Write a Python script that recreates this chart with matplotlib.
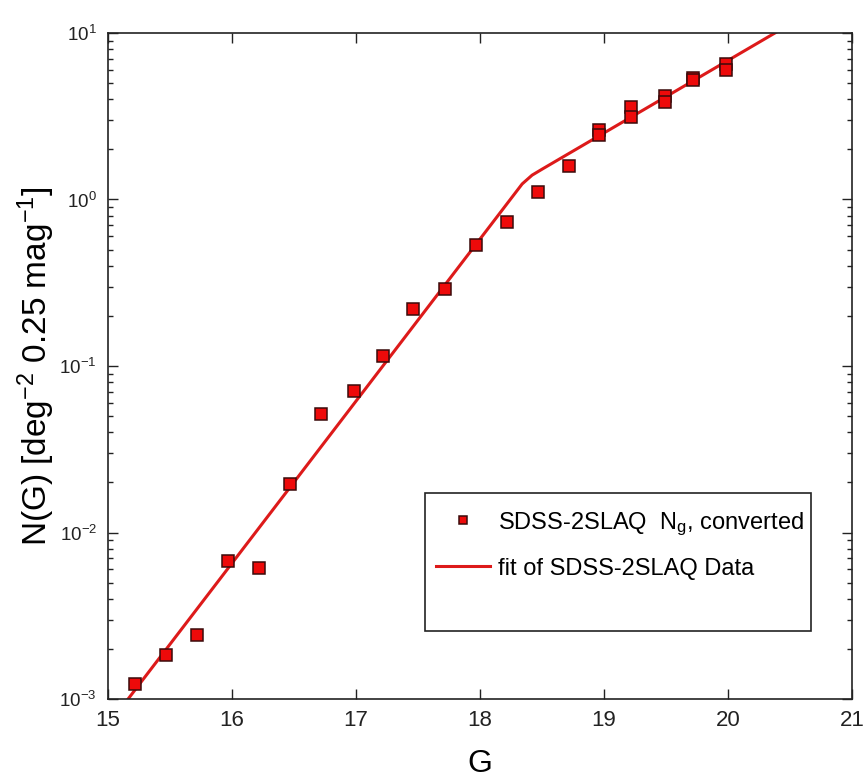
# ================== IMPORTS ==================
import math
import matplotlib
matplotlib.use("Agg")

import matplotlib.pyplot as plt
from matplotlib.patches import Rectangle
from matplotlib.ticker import LogLocator, FixedLocator, FuncFormatter, NullLocator

plt.rcParams["font.family"] = ["Liberation Sans", "DejaVu Sans"]
plt.rcParams["mathtext.fontset"] = "custom"
plt.rcParams["mathtext.rm"] = "Liberation Sans"
plt.rcParams["mathtext.it"] = "Liberation Sans"

# ================== DATA ==================
# SDSS-2SLAQ N_g counts (converted)
g_mag = [15.22, 15.47, 15.72, 15.97, 16.22, 16.47, 16.72, 16.98, 17.22, 17.46,
         17.72, 17.97, 18.22, 18.47, 18.72, 18.96, 18.96, 19.22, 19.22,
         19.49, 19.49, 19.72, 19.72, 19.98, 19.98]
n_g = [1.23e-3, 1.83e-3, 2.42e-3, 6.78e-3, 6.12e-3, 0.0195, 0.0516, 0.0711, 0.115, 0.219,
       0.291, 0.531, 0.736, 1.11, 1.60, 2.61, 2.44, 3.61, 3.12,
       4.19, 3.87, 5.40, 5.20, 6.47, 6.00]

# fit of SDSS-2SLAQ data (broken power law)
fit_g = [15.10, 18.34, 18.42, 18.50, 20.50]
fit_n = [8.7e-4, 1.24, 1.40, 1.52, 11.3]

x_ticks = [15, 16, 17, 18, 19, 20, 21]

RED = "#ee0a0a"
LINE_RED = "#dd1a1a"

# ================== CHART ==================
fig = plt.figure(figsize=(8.63, 7.78), dpi=100)
ax = fig.add_axes([0.1251, 0.1015, 0.8622, 0.8561])

ax.plot(fit_g, fit_n, color=LINE_RED, lw=2.2, zorder=2, label="fit of SDSS-2SLAQ Data")
ax.plot(g_mag, n_g, ls="none", marker="s", ms=8.4, mfc=RED, mec="#3a0a0a", mew=1.1,
        zorder=3, label=r"SDSS-2SLAQ  $\mathregular{N_g}$, converted")

ax.set_yscale("log")
ax.set_xlim(15, 21)
ax.set_ylim(1e-3, 10)

ax.xaxis.set_major_locator(FixedLocator(x_ticks))
ax.xaxis.set_minor_locator(NullLocator())
ax.yaxis.set_major_locator(LogLocator(base=10, numticks=10))
ax.yaxis.set_minor_locator(LogLocator(base=10, subs=range(2, 10), numticks=10))
ax.yaxis.set_major_formatter(FuncFormatter(lambda v, p: r"$\mathregular{10^{%d}}$" % round(math.log10(v))))

ax.tick_params(which="both", direction="in", top=True, right=True, colors="#222222")
ax.tick_params(which="major", length=7.5, width=1.0)
ax.tick_params(which="minor", length=3.8, width=1.0)
ax.tick_params(axis="x", labelsize=16, pad=8)
ax.tick_params(axis="y", labelsize=13.5, pad=8)
for s in ax.spines.values():
    s.set_linewidth(1.2)
    s.set_color("#222222")

ax.set_xlabel("G", fontsize=23, labelpad=13)
ax.set_ylabel(r"N(G) [deg$^{\mathregular{-2}}$ 0.25 mag$^{\mathregular{-1}}$]", fontsize=24, labelpad=2)

# legend box drawn separately so it can be taller than its entries
ax.add_patch(Rectangle((0.426, 0.1026), 0.519, 0.2064, transform=ax.transAxes,
                       fill=False, ec="#222222", lw=1.2, zorder=4))
h, l = ax.get_legend_handles_labels()
leg = ax.legend(h[::-1], l[::-1], loc="upper left", bbox_to_anchor=(0.406, 0.3225),
                frameon=False, fontsize=17, handlelength=2.3, handletextpad=0.34,
                labelspacing=0.85, markerscale=0.75, borderpad=0.6)

fig.savefig("out.png", dpi=100, facecolor="white")
